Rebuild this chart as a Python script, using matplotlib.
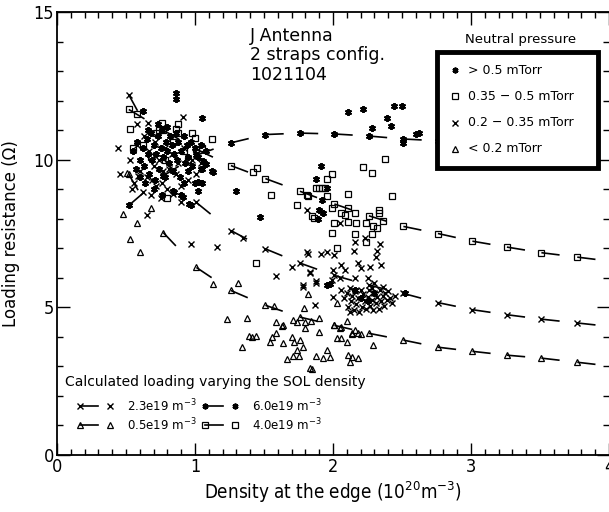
import matplotlib
matplotlib.use("Agg")
import matplotlib.pyplot as plt
from matplotlib.patches import Rectangle
from matplotlib.ticker import MultipleLocator

plt.rcParams['font.family'] = ['DejaVu Sans']
plt.rcParams['mathtext.default'] = 'regular'

# calculated loading, varying the SOL density
calc_x = [0.52, 0.77, 1.01, 1.26, 1.51, 1.76, 2.01, 2.26, 2.51, 2.76, 3.01, 3.26, 3.51, 3.77]
calc_60 = [8.45, 9.45, 10.15, 10.57, 10.85, 10.9, 10.87, 10.8, 10.7, 10.64, 10.58, 10.52, 10.47, 10.42]
calc_40 = [11.7, 11.0, 10.35, 9.8, 9.36, 8.93, 8.5, 8.1, 7.74, 7.5, 7.24, 7.04, 6.85, 6.7]
calc_23 = [12.2, 10.05, 8.55, 7.6, 6.98, 6.5, 6.08, 5.75, 5.47, 5.16, 4.92, 4.75, 4.6, 4.47]
calc_05 = [9.5, 7.53, 6.35, 5.57, 5.07, 4.67, 4.39, 4.12, 3.89, 3.65, 3.51, 3.38, 3.28, 3.14]

# measured points, > 0.5 mTorr
p_high = [(0.86, 12.25), (0.86, 12.05), (0.62, 11.65), (1.05, 11.4), (2.11, 11.62), (2.22, 11.72),
          (2.44, 11.82), (2.50, 11.82), (2.39, 11.42), (2.28, 11.08), (2.42, 11.15), (2.51, 10.55),
          (2.60, 10.87), (2.62, 10.9), (1.91, 9.8), (1.88, 9.36), (1.96, 9.05), (1.92, 8.65),
          (1.89, 8.0), (1.93, 8.2), (1.90, 8.3), (1.30, 8.95), (1.13, 9.57), (1.47, 8.07),
          (1.08, 9.85), (1.04, 9.7), (1.0, 9.2), (1.02, 9.25), (0.92, 9.2), (0.90, 8.8),
          (0.85, 8.9), (0.96, 8.5), (0.84, 8.95), (0.91, 8.75), (1.02, 8.95), (1.05, 9.2),
          (0.95, 9.63), (1.05, 9.7), (1.12, 9.6), (0.97, 8.45), (1.96, 5.74), (1.98, 5.8),
          (2.16, 5.6), (2.2, 5.3), (2.3, 5.5), (2.25, 5.2), (2.52, 5.5),
          (0.55, 10.3), (0.58, 10.6), (0.60, 10.0), (0.62, 10.4), (0.63, 9.8), (0.65, 10.7),
          (0.66, 10.2), (0.67, 9.5), (0.68, 10.9), (0.69, 10.0), (0.70, 10.5), (0.71, 9.3),
          (0.72, 10.2), (0.73, 10.8), (0.74, 9.7), (0.75, 10.4), (0.76, 11.0), (0.77, 10.1),
          (0.78, 9.4), (0.79, 10.6), (0.80, 10.3), (0.81, 9.9), (0.82, 10.8), (0.83, 10.5),
          (0.84, 9.6), (0.85, 10.2), (0.86, 10.9), (0.87, 10.0), (0.88, 10.6), (0.89, 9.4),
          (0.90, 10.3), (0.92, 10.8), (0.93, 9.9), (0.94, 10.5), (0.95, 10.1), (0.97, 10.6),
          (0.98, 9.8), (1.00, 10.4), (1.02, 10.1), (1.04, 10.5), (1.06, 9.95), (1.08, 10.3),
          (0.64, 9.2), (0.70, 9.0), (0.76, 8.8), (0.60, 9.4), (0.57, 9.7), (0.80, 11.1),
          (0.73, 11.2), (0.66, 11.0)]

# 0.35 - 0.5 mTorr
p_mid = [(0.58, 11.55), (0.53, 11.05), (0.76, 11.25), (0.88, 11.2), (0.88, 10.9), (1.0, 10.75),
         (1.12, 10.7), (1.42, 9.57), (1.45, 9.72), (1.55, 8.8), (1.81, 8.8), (1.88, 9.05),
         (1.74, 8.48), (1.86, 8.04), (1.44, 6.5), (0.80, 8.7), (2.38, 10.03), (2.22, 9.76),
         (2.28, 9.56), (1.99, 9.53), (1.96, 9.36), (1.90, 9.05), (1.92, 9.05), (1.94, 9.05),
         (2.11, 8.85), (2.43, 8.78), (1.82, 8.78), (1.96, 8.78), (1.85, 8.1), (1.99, 8.38),
         (2.11, 8.38), (2.06, 8.18), (2.16, 8.21), (2.09, 8.11), (2.33, 8.18), (2.33, 8.28),
         (2.36, 7.94), (2.01, 7.87), (2.11, 7.9), (2.17, 7.87), (2.24, 7.84), (2.29, 7.77),
         (2.32, 7.67), (1.99, 7.53), (2.16, 7.5), (2.28, 7.5), (2.03, 7.0), (2.24, 7.2),
         (0.62, 10.5), (0.72, 10.9), (0.78, 10.0), (0.84, 10.6), (0.92, 10.3), (0.68, 10.1),
         (0.95, 10.0), (1.05, 10.4), (0.55, 10.4), (0.86, 11.05), (0.98, 10.9), (0.74, 11.0)]

# 0.2 - 0.35 mTorr
p_low = [(0.66, 11.25), (0.58, 11.2), (0.91, 11.45), (0.44, 10.4), (0.46, 9.5), (0.59, 9.45),
         (0.54, 9.0), (0.65, 8.13), (0.90, 8.55), (0.97, 7.16), (1.16, 7.03), (1.35, 7.36),
         (1.59, 6.05), (1.70, 6.35), (1.81, 6.86), (1.83, 6.15), (1.78, 5.74), (1.88, 5.84),
         (1.87, 5.07), (1.81, 8.28), (2.05, 7.84), (2.23, 7.36), (2.16, 7.2), (2.15, 6.92),
         (2.34, 7.16), (2.32, 6.92), (2.31, 6.7), (1.82, 6.82), (1.91, 6.82), (1.96, 6.86),
         (2.01, 6.76), (1.83, 6.18), (2.0, 6.25), (2.06, 6.42), (2.09, 6.25), (2.18, 6.49),
         (2.27, 6.35), (2.2, 6.32), (2.35, 6.45), (1.78, 5.68), (1.88, 5.88), (1.99, 5.91),
         (2.05, 6.01), (2.16, 5.98), (2.25, 6.01), (2.3, 5.84), (2.36, 5.68), (2.0, 5.34),
         (2.06, 5.6), (2.08, 5.3), (2.10, 5.5), (2.11, 5.0), (2.12, 5.65), (2.13, 5.2),
         (2.14, 5.4), (2.15, 4.9), (2.16, 5.55), (2.17, 5.1), (2.18, 5.3), (2.19, 4.85),
         (2.20, 5.6), (2.21, 5.0), (2.22, 5.45), (2.23, 5.2), (2.24, 4.95), (2.25, 5.35),
         (2.26, 5.6), (2.27, 5.05), (2.28, 5.25), (2.29, 4.9), (2.30, 5.5), (2.31, 5.15),
         (2.32, 5.35), (2.33, 4.95), (2.34, 5.6), (2.35, 5.2), (2.36, 5.4), (2.37, 5.05),
         (2.38, 5.5), (2.39, 5.25), (2.41, 5.3), (2.43, 5.15), (2.45, 5.4), (2.40, 5.55),
         (2.12, 4.85), (2.28, 5.65),
         (0.53, 10.0), (0.56, 9.2), (0.58, 10.5), (0.60, 9.6), (0.62, 8.9), (0.63, 10.8),
         (0.65, 9.4), (0.67, 10.3), (0.68, 8.8), (0.70, 9.8), (0.71, 10.6), (0.72, 9.1),
         (0.74, 10.0), (0.75, 8.7), (0.77, 9.6), (0.78, 10.4), (0.80, 9.0), (0.81, 9.7),
         (0.83, 10.2), (0.84, 8.85), (0.86, 9.5), (0.88, 9.9), (0.90, 9.1), (0.92, 10.4),
         (0.95, 9.3), (0.98, 10.0), (1.01, 9.5), (1.04, 9.9), (0.69, 9.3), (0.76, 9.2)]

# < 0.2 mTorr
p_vlow = [(0.51, 9.55), (0.48, 8.17), (0.68, 8.35), (0.58, 7.84), (0.53, 7.3), (0.60, 6.86),
          (1.13, 5.8), (1.31, 5.84), (1.82, 5.44), (1.57, 5.03), (1.79, 4.97), (1.23, 4.59),
          (1.38, 4.63), (1.59, 4.49), (1.64, 4.39), (1.71, 4.56), (1.80, 4.49), (1.80, 4.29),
          (1.39, 4.02), (1.41, 3.99), (1.44, 4.02), (1.34, 3.65), (1.54, 3.82), (1.56, 3.99),
          (1.59, 4.12), (1.64, 3.78), (1.67, 3.24), (1.70, 3.99), (1.71, 3.35), (1.74, 3.55),
          (1.75, 3.35), (1.78, 3.65), (1.72, 3.82), (1.76, 3.89), (1.83, 2.94), (1.88, 3.35),
          (1.96, 3.55), (1.98, 3.31), (2.03, 5.13), (2.06, 4.32), (2.10, 4.53), (2.03, 3.95),
          (2.06, 3.95), (2.10, 3.82), (2.14, 4.09), (2.20, 4.09), (2.16, 4.22), (2.29, 3.72),
          (2.11, 3.38), (2.14, 3.31), (2.18, 3.28), (2.12, 3.14), (1.90, 4.63), (1.90, 4.16),
          (1.85, 2.9), (1.74, 4.49), (1.63, 4.36), (2.01, 4.39), (2.05, 4.29), (2.14, 4.12),
          (2.18, 4.12), (1.93, 3.3), (1.84, 4.55)]

calc_labels = ['2.3e19 m$^{-3}$', '6.0e19 m$^{-3}$', '0.5e19 m$^{-3}$', '4.0e19 m$^{-3}$']
pressure_labels = ['> 0.5 mTorr', '0.35 \u2212 0.5 mTorr', '0.2 \u2212 0.35 mTorr', '< 0.2 mTorr']

STAR = (6, 2, 0)
mk = {
    'star': dict(marker=STAR, ms=5.0, mew=1.4, mec='k', mfc='k'),
    'sq': dict(marker='s', ms=4.8, mew=0.9, mec='k', mfc='none'),
    'x': dict(marker='x', ms=4.8, mew=1.0, mec='k'),
    'tri': dict(marker='^', ms=5.0, mew=0.9, mec='k', mfc='none'),
}

fig = plt.figure(figsize=(6.09, 5.12), dpi=100)
ax = fig.add_axes([57 / 609, 57 / 512, 552 / 609, 443 / 512])


def scatter(pts, style):
    xs = [p[0] for p in pts]
    ys = [p[1] for p in pts]
    ax.plot(xs, ys, ls='none', zorder=3, **mk[style])


def dashed_curve(xs, ys, style):
    n = len(xs)
    for i in range(n):
        if i < n - 1:
            x1, y1 = xs[i + 1], ys[i + 1]
        else:
            x1, y1 = 2 * xs[i] - xs[i - 1], 2 * ys[i] - ys[i - 1]
        ax.plot([xs[i], x1], [ys[i], y1], color='k', lw=1.2,
                dashes=(11, 300), solid_capstyle='butt', zorder=4)
    ax.plot(xs, ys, ls='none', zorder=4, **mk[style])


scatter(p_high, 'star')
scatter(p_mid, 'sq')
scatter(p_low, 'x')
scatter(p_vlow, 'tri')

dashed_curve(calc_x, calc_60, 'star')
dashed_curve(calc_x, calc_40, 'sq')
dashed_curve(calc_x, calc_23, 'x')
dashed_curve(calc_x, calc_05, 'tri')

ax.set_xlim(0, 4)
ax.set_ylim(0, 15)
ax.xaxis.set_major_locator(MultipleLocator(1))
ax.xaxis.set_minor_locator(MultipleLocator(0.1))
ax.yaxis.set_major_locator(MultipleLocator(5))
ax.yaxis.set_minor_locator(MultipleLocator(1))
ax.tick_params(which='both', direction='in', top=True, right=True, width=1.0)
ax.tick_params(which='major', length=9, labelsize=13, pad=2)
ax.tick_params(which='minor', length=4)
for lab in ax.get_xticklabels() + ax.get_yticklabels():
    lab.set_fontstretch('condensed')
for s in ax.spines.values():
    s.set_linewidth(1.3)
ax.spines['right'].set_visible(False)

ax.set_xlabel('Density at the edge (10$^{20}$m$^{-3}$)', fontstretch='condensed', fontsize=13.5)
ax.xaxis.set_label_coords(0.5, -0.055)
ax.set_ylabel('Loading resistance (\u03a9)', fontsize=12)
ax.yaxis.set_label_coords(-0.067, 0.5)

ax.text(0.35, 0.966, 'J Antenna\n2 straps config.\n1021104', transform=ax.transAxes,
        fontsize=12.5, va='top', ha='left', linespacing=1.1)

# neutral pressure legend
ax.text(0.839, 0.937, 'Neutral pressure', transform=ax.transAxes, fontsize=9.5,
        ha='center', va='center', zorder=11)
ax.add_patch(Rectangle((0.688, 0.648), 0.292, 0.262, transform=ax.transAxes,
                       facecolor='white', edgecolor='k', lw=3.5, zorder=10, clip_on=False))
for i, (style, lab) in enumerate(zip(['star', 'sq', 'x', 'tri'], pressure_labels)):
    yy = 0.869 - i * 0.0593
    st = dict(mk[style])
    st['ms'] = 4.2
    ax.plot([0.721], [yy], transform=ax.transAxes, ls='none', zorder=11, clip_on=False, **st)
    ax.text(0.745, yy, lab, transform=ax.transAxes, fontsize=9, va='center', zorder=11)

# calculated loading legend
ax.text(0.0145, 0.165, 'Calculated loading varying the SOL density', transform=ax.transAxes,
        fontsize=10, va='center', ha='left')
leg_pos = [(0.042, 0.111), (0.268, 0.111), (0.042, 0.068), (0.268, 0.068)]
for (lx, ly), style, lab in zip(leg_pos, ['x', 'star', 'tri', 'sq'], calc_labels):
    st = dict(mk[style])
    st['ms'] = 4.2
    ax.plot([lx, lx + 0.033], [ly, ly], transform=ax.transAxes, color='k', lw=1.2,
            markevery=[0], **st)
    ax.plot([lx + 0.054], [ly], transform=ax.transAxes, ls='none', **st)
    ax.text(lx + 0.085, ly, lab, transform=ax.transAxes, fontsize=8.5, va='center', ha='left')

fig.savefig('out.png', dpi=100)
